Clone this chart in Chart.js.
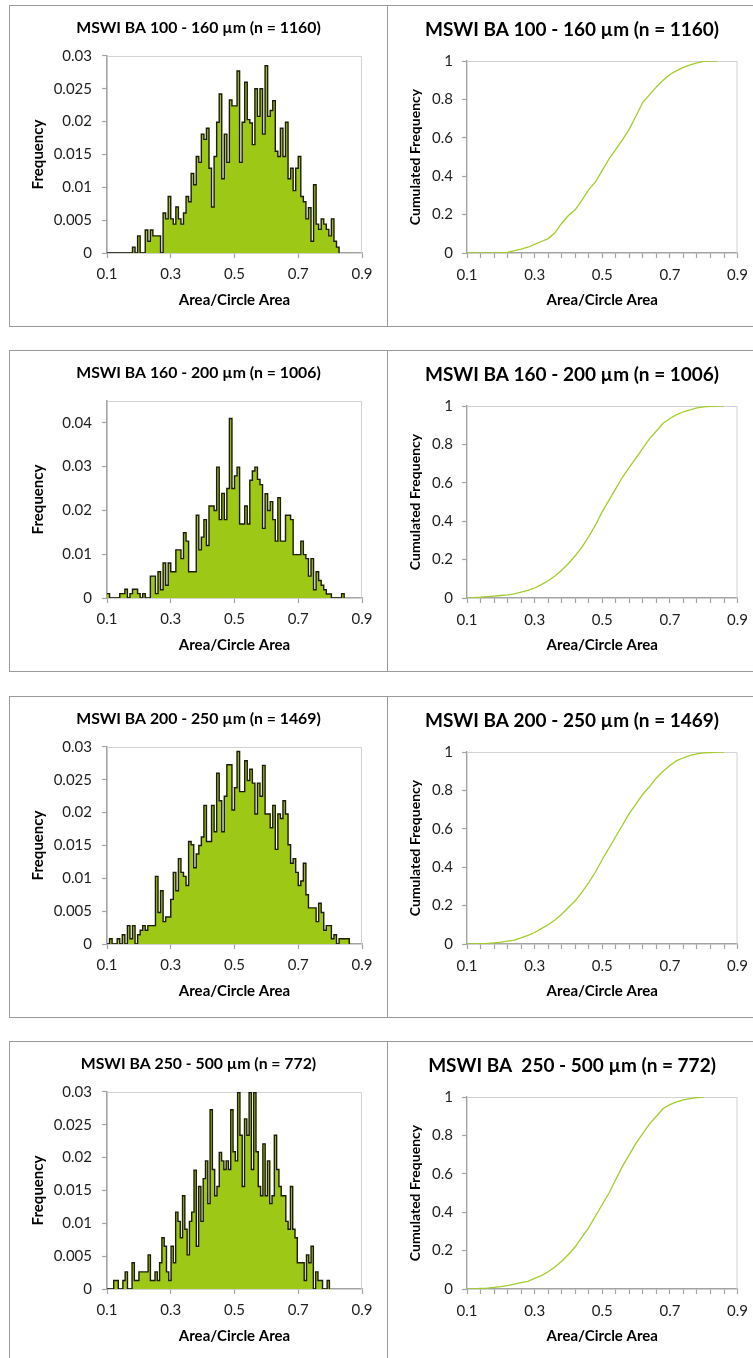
<!DOCTYPE html>
<html>
<head>
<meta charset="utf-8">
<script src="https://cdn.jsdelivr.net/npm/chart.js@4.4.1/dist/chart.umd.min.js"></script>
<style>
  body { margin: 0; background: #fff; width: 753px; height: 1358px; overflow: hidden; position: relative; }
  .box { position: absolute; border: 1px solid #9a9a9a; background: #fff; }
  .box canvas { display: block; }
</style>
</head>
<body>
<div class="box" style="left:9px;top:5px"><canvas id="h1" width="377" height="320"></canvas></div>
<div class="box" style="left:387px;top:5px"><canvas id="c1" width="368" height="320"></canvas></div>
<div class="box" style="left:9px;top:350px"><canvas id="h2" width="377" height="320"></canvas></div>
<div class="box" style="left:387px;top:350px"><canvas id="c2" width="368" height="320"></canvas></div>
<div class="box" style="left:9px;top:696px"><canvas id="h3" width="377" height="320"></canvas></div>
<div class="box" style="left:387px;top:696px"><canvas id="c3" width="368" height="320"></canvas></div>
<div class="box" style="left:9px;top:1041px"><canvas id="h4" width="377" height="320"></canvas></div>
<div class="box" style="left:387px;top:1041px"><canvas id="c4" width="368" height="320"></canvas></div>

<script>
/* ===== DATA ===== */
const histTitles = [
  "MSWI BA 100 - 160 µm (n = 1160)",
  "MSWI BA 160 - 200 µm (n = 1006)",
  "MSWI BA 200 - 250 µm (n = 1469)",
  "MSWI BA 250 - 500 µm (n = 772)"
];
const cumTitles = [
  "MSWI BA 100 - 160 µm (n = 1160)",
  "MSWI BA 160 - 200 µm (n = 1006)",
  "MSWI BA 200 - 250 µm (n = 1469)",
  "MSWI BA  250 - 500 µm (n = 772)"
];

// histogram bins: first bin start and bin width (Area/Circle Area)
const binStart = [0.1, 0.1, 0.1, 0.121];
const binWidth = [0.008, 0.008, 0.008, 0.0072];

const freq100 = [
  0, 0, 0, 0, 0, 0, 0, 0, 0, 0,
  0.0009, 0, 0.0026, 0, 0, 0.0035, 0.0018, 0.0035, 0.0026, 0.0026,
  0.0026, 0, 0.0061, 0.0052, 0.0086, 0.0052, 0.0044, 0.0070, 0.0052, 0.0044,
  0.0061, 0.0086, 0.0078, 0.0121, 0.0104, 0.0147, 0.0138, 0.0181, 0.0173, 0.0190,
  0.0129, 0.0070, 0.0147, 0.0199, 0.0242, 0.0113, 0.0181, 0.0138, 0.0233, 0.0224,
  0.0224, 0.0277, 0.0138, 0.0199, 0.0260, 0.0203, 0.0198, 0.0165, 0.0250, 0.0208,
  0.0250, 0.0181, 0.0285, 0.0208, 0.0217, 0.0232, 0.0155, 0.0147, 0.0190, 0.0147,
  0.0199, 0.0113, 0.0129, 0.0095, 0.0129, 0.0147, 0.0086, 0.0078, 0.0052, 0.0069,
  0.0018, 0.0104, 0.0044, 0.0036, 0.0052, 0.0044, 0.0036, 0.0026, 0.0052, 0.0018,
  0.0009
];
const freq160 = [
  0.001, 0, 0, 0, 0, 0.001, 0.001, 0.002, 0, 0.001,
  0.002, 0.002, 0.001, 0, 0.001, 0, 0, 0.005, 0.005, 0.001,
  0.006, 0.0019, 0.008, 0.0029, 0.008, 0.006, 0.006, 0.011, 0.011, 0.009,
  0.0149, 0.013, 0.006, 0.006, 0.006, 0.0189, 0.011, 0.0139, 0.0179, 0.012,
  0.021, 0.021, 0.020, 0.0299, 0.0179, 0.0239, 0.0179, 0.025, 0.041, 0.025,
  0.0279, 0.0299, 0.0169, 0.0169, 0.0210, 0.0169, 0.0269, 0.0290, 0.0299, 0.0271,
  0.0259, 0.0159, 0.0238, 0.0200, 0.0220, 0.0179, 0.0130, 0.0229, 0.0130, 0.0130,
  0.0189, 0.0189, 0.0179, 0.0099, 0.0099, 0.0099, 0.0130, 0.0099, 0.0090, 0.0050,
  0.0090, 0.0019, 0.0060, 0.0040, 0.0029, 0.0019, 0.0009, 0.0009, 0, 0,
  0, 0, 0.001
];
const freq200 = [
  0, 0.0008, 0, 0, 0.0008, 0, 0.0014, 0, 0.0028, 0.0008,
  0.0028, 0, 0.0014, 0.0021, 0.0028, 0.0021, 0.0028, 0.0028, 0.0028, 0.0103,
  0.0048, 0.0081, 0.0034, 0.0041, 0.0041, 0.0068, 0.0109, 0.0081, 0.0130, 0.0109,
  0.0103, 0.0089, 0.0156, 0.0151, 0.0116, 0.0137, 0.0150, 0.0163, 0.0211, 0.0156,
  0.0156, 0.0211, 0.0171, 0.0260, 0.0218, 0.0171, 0.0225, 0.0273, 0.0273, 0.0204,
  0.0238, 0.0293, 0.0232, 0.0232, 0.0279, 0.0249, 0.0266, 0.0245, 0.0198, 0.0245,
  0.0225, 0.0272, 0.0198, 0.0198, 0.0177, 0.0211, 0.0144, 0.0198, 0.0191, 0.0218,
  0.0198, 0.0151, 0.0123, 0.0130, 0.0109, 0.0089, 0.0096, 0.0123, 0.0075, 0.0055,
  0.0055, 0.0055, 0.0034, 0.0062, 0.0048, 0.0021, 0.0028, 0.0028, 0.0008, 0.0014,
  0, 0.0008, 0.0008, 0.0008, 0.0008
];
const freq250 = [
  0.0013, 0.0013, 0, 0, 0.0013, 0.0026, 0, 0, 0.0040, 0.0013,
  0.0013, 0.0026, 0.0026, 0.0026, 0.0026, 0.0052, 0.0013, 0.0013, 0.0026, 0.0013,
  0.0040, 0.0078, 0.0065, 0.0026, 0.0013, 0.0065, 0.0040, 0.0117, 0.0103, 0.0078,
  0.0142, 0.0091, 0.0052, 0.0103, 0.0117, 0.0181, 0.0065, 0.0156, 0.0103, 0.0168,
  0.0195, 0.0130, 0.0273, 0.0182, 0.0142, 0.0156, 0.0208, 0.0195, 0.0182, 0.0195,
  0.0182, 0.0273, 0.0209, 0.0195, 0.0299, 0.0234, 0.0156, 0.0259, 0.0234, 0.0299,
  0.0182, 0.0299, 0.0209, 0.0156, 0.0142, 0.0221, 0.0142, 0.0195, 0.0130, 0.0142,
  0.0234, 0.0182, 0.0156, 0.0142, 0.0142, 0.0103, 0.0091, 0.0156, 0.0091, 0.0078,
  0.0040, 0.0040, 0.0040, 0.0013, 0.0052, 0.0040, 0.0065, 0, 0.0026, 0.0013,
  0.0013, 0, 0, 0.0013
];
const histFreq = [freq100, freq160, freq200, freq250];
const histMax = [0.03, 0.045, 0.03, 0.03];
const histStep = [0.005, 0.01, 0.005, 0.005];

// cumulated frequency, read every 0.02 from 0.1
const cumStart = 0.1;
const cumStep = 0.02;
const cum100 = [0, 0, 0, 0, 0, 0, 0.003, 0.012, 0.02, 0.03, 0.045, 0.06, 0.075, 0.105, 0.155, 0.195, 0.225, 0.275, 0.33, 0.37,
  0.43, 0.49, 0.54, 0.59, 0.645, 0.715, 0.785, 0.825, 0.865, 0.9, 0.93, 0.95, 0.967, 0.98, 0.99, 0.998, 1, 1];
const cum160 = [0.001, 0.002, 0.004, 0.007, 0.01, 0.013, 0.016, 0.022, 0.03, 0.04, 0.052, 0.07, 0.09, 0.115, 0.145, 0.18, 0.22, 0.265, 0.32, 0.38,
  0.45, 0.51, 0.57, 0.63, 0.68, 0.73, 0.78, 0.83, 0.87, 0.91, 0.935, 0.955, 0.97, 0.98, 0.99, 0.995, 0.998, 0.999, 1];
const cum200 = [0, 0.001, 0.002, 0.003, 0.006, 0.01, 0.015, 0.02, 0.032, 0.045, 0.06, 0.08, 0.1, 0.125, 0.155, 0.19, 0.225, 0.27, 0.32, 0.375,
  0.44, 0.5, 0.56, 0.62, 0.68, 0.73, 0.78, 0.82, 0.865, 0.9, 0.93, 0.955, 0.97, 0.982, 0.99, 0.995, 0.997, 0.999, 1];
const cum250 = [0, 0.001, 0.003, 0.005, 0.008, 0.012, 0.018, 0.025, 0.033, 0.04, 0.055, 0.07, 0.09, 0.115, 0.145, 0.18, 0.22, 0.27, 0.32, 0.38,
  0.44, 0.5, 0.57, 0.64, 0.7, 0.76, 0.81, 0.86, 0.9, 0.94, 0.96, 0.975, 0.985, 0.992, 0.997, 1];
const cumFreq = [cum100, cum160, cum200, cum250];

/* ===== STYLE ===== */
const FONT = "Lato, 'Open Sans', sans-serif";
const AXIS = "#a3a3a3";
const TICK = "#1e1e1e";
const GREEN = "#9dc816";
const LINE_GREEN = "#a3cd2b";

// light frame on top and right of the plot area
const plotFrame = {
  id: "plotFrame",
  beforeDatasetsDraw(chart) {
    const { ctx, chartArea: a } = chart;
    ctx.save();
    ctx.strokeStyle = "#d2d2d2";
    ctx.lineWidth = 1;
    ctx.beginPath();
    ctx.moveTo(a.left, a.top + 0.5);
    ctx.lineTo(a.right - 0.5, a.top + 0.5);
    ctx.lineTo(a.right - 0.5, a.bottom);
    ctx.stroke();
    ctx.restore();
  }
};

function axisGrid() {
  return { display: true, drawOnChartArea: false, drawTicks: true, tickLength: 5, color: AXIS, tickWidth: 1.2 };
}

// empty axis on the right, keeps the title centred on the whole box
function rightGap(w) {
  return {
    type: "linear", position: "right", display: true,
    grid: { display: false }, ticks: { display: false }, border: { display: false },
    afterFit: s => { s.width = w; }
  };
}

/* ===== HISTOGRAM ===== */
function histChart(id, i) {
  const freq = histFreq[i];
  const pts = freq.map((f, k) => ({ x: binStart[i] + k * binWidth[i], y: f }));
  pts.push({ x: binStart[i] + freq.length * binWidth[i], y: 0 });
  if (binStart[i] > 0.1) pts.unshift({ x: 0.1, y: 0 });

  new Chart(document.getElementById(id), {
    type: "line",
    data: {
      datasets: [{
        data: pts,
        yAxisID: "y",
        stepped: true,
        fill: "origin",
        backgroundColor: GREEN,
        borderColor: "#1c1c06",
        borderWidth: 1.4,
        pointRadius: 0
      }]
    },
    options: {
      responsive: false,
      animation: false,
      layout: { padding: 0 },
      plugins: {
        legend: { display: false },
        tooltip: { enabled: false },
        title: {
          display: true, text: histTitles[i], color: "#000",
          font: { family: FONT, size: 15.8, weight: "bold" },
          padding: { top: 12.5, bottom: 18.5 }
        }
      },
      scales: {
        x: {
          type: "linear", min: 0.1, max: 0.9,
          afterFit: s => { s.height = 73; },
          ticks: { stepSize: 0.2, maxRotation: 0, padding: 7, color: TICK,
                   font: { family: FONT, size: 15 }, callback: v => v.toFixed(1) },
          grid: axisGrid(),
          border: { color: AXIS, width: 1.6 },
          title: { display: true, text: "Area/Circle Area", color: "#000",
                   font: { family: FONT, size: 15, weight: "bold" }, padding: { top: 0, bottom: 17 } }
        },
        y: {
          min: 0, max: histMax[i],
          afterFit: s => { s.width = 97; },
          afterBuildTicks: s => {
            const st = histStep[i];
            s.ticks = s.ticks.filter(t => Math.abs(t.value / st - Math.round(t.value / st)) < 1e-6);
          },
          ticks: { stepSize: histStep[i], padding: 10, color: TICK,
                   font: { family: FONT, size: 15 }, callback: v => String(+v.toFixed(4)) },
          grid: axisGrid(),
          border: { color: AXIS, width: 1.6 },
          title: { display: true, text: "Frequency", color: "#000",
                   font: { family: FONT, size: 15, weight: "bold" }, padding: { top: 19, bottom: 0 } }
        },
        gap: rightGap(25)
      }
    },
    plugins: [plotFrame]
  });
}

/* ===== CUMULATED FREQUENCY ===== */
function cumChart(id, i) {
  const pts = cumFreq[i].map((c, k) => ({ x: cumStart + k * cumStep, y: c }));

  new Chart(document.getElementById(id), {
    type: "line",
    data: {
      datasets: [{
        data: pts,
        yAxisID: "y",
        borderColor: LINE_GREEN,
        borderWidth: 1.3,
        pointRadius: 0,
        fill: false,
        tension: 0
      }]
    },
    options: {
      responsive: false,
      animation: false,
      layout: { padding: 0 },
      plugins: {
        legend: { display: false },
        tooltip: { enabled: false },
        title: {
          display: true, text: cumTitles[i], color: "#000",
          font: { family: FONT, size: 19, weight: "bold" },
          padding: { top: 12.5, bottom: 19.7 }
        }
      },
      scales: {
        x: {
          type: "linear", min: 0.1, max: 0.9,
          afterFit: s => { s.height = 73; },
          ticks: {
            stepSize: 0.04, autoSkip: false, maxRotation: 0, padding: 8, color: TICK,
            font: { family: FONT, size: 15 },
            callback: v => {
              const r = (v - 0.1) / 0.2;
              return Math.abs(r - Math.round(r)) < 1e-6 ? v.toFixed(1) : "";
            }
          },
          grid: axisGrid(),
          border: { color: AXIS, width: 1.4 },
          title: { display: true, text: "Area/Circle Area", color: "#000",
                   font: { family: FONT, size: 15, weight: "bold" }, padding: { top: 0, bottom: 17 } }
        },
        y: {
          min: 0, max: 1,
          afterFit: s => { s.width = 79; },
          ticks: { stepSize: 0.2, padding: 9, color: TICK,
                   font: { family: FONT, size: 15 }, callback: v => String(+v.toFixed(2)) },
          grid: axisGrid(),
          border: { color: AXIS, width: 1.4 },
          title: { display: true, text: "Cumulated Frequency", color: "#000",
                   font: { family: FONT, size: 14, weight: "bold" }, padding: { top: 19, bottom: 0 } }
        },
        gap: rightGap(16)
      }
    },
    plugins: [plotFrame]
  });
}

for (let i = 0; i < 4; i++) {
  histChart("h" + (i + 1), i);
  cumChart("c" + (i + 1), i);
}
</script>
</body>
</html>
